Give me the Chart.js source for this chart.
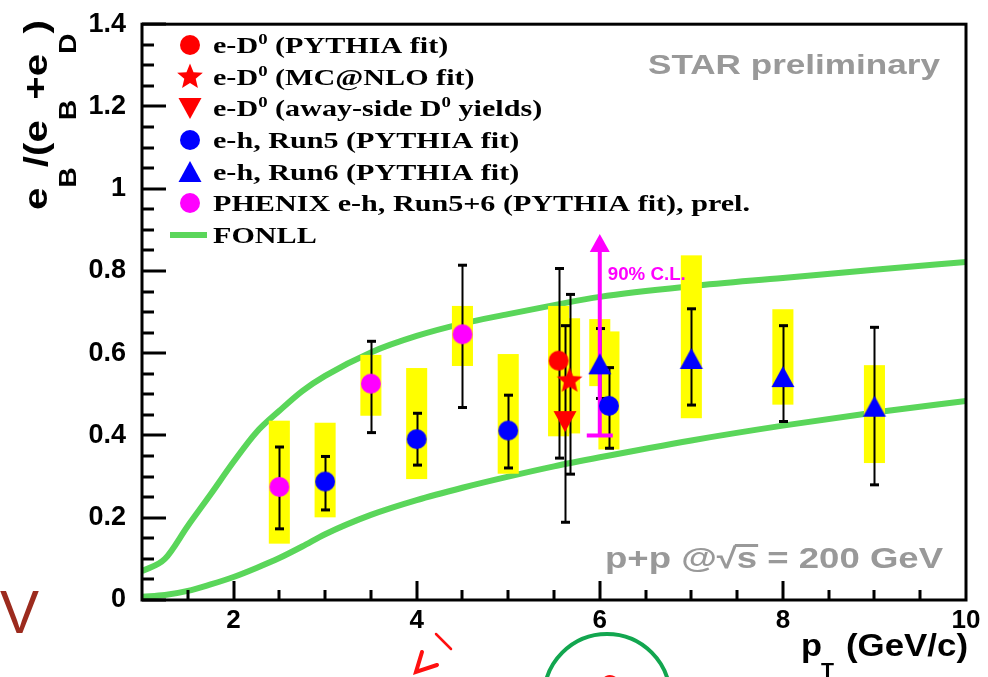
<!DOCTYPE html>
<html>
<head>
<meta charset="utf-8">
<script src="https://cdn.jsdelivr.net/npm/chart.js@4.4.0/dist/chart.umd.min.js"></script>
<style>
  html, body { margin: 0; padding: 0; background: #fff; }
  #wrap { width: 988px; height: 677px; }
</style>
</head>
<body>
<div id="wrap"><canvas id="chart" width="988" height="677"></canvas></div>
<script>
// values: x = pT (GeV/c), y = e_B/(e_B+e_D)
// error arrays hold [low, high] ends of each bar / box
const edPythiaX = [5.55];
const edPythiaY = [0.582];
const edPythiaStat = [[0.345, 0.806]];
const edPythiaSys = [[0.398, 0.715]];

const edMcnloX = [5.67];
const edMcnloY = [0.533];
const edMcnloStat = [[0.306, 0.743]];
const edMcnloSys = [[0.405, 0.685]];

const edAwayX = [5.62];
const edAwayY = [0.435];
const edAwayStat = [[0.189, 0.667]];
const edAwaySys = [null];

const run5X = [3.0, 4.0, 5.0, 6.1];
const run5Y = [0.288, 0.391, 0.412, 0.472];
const run5Stat = [[0.219, 0.349], [0.328, 0.454], [0.321, 0.498], [0.369, 0.565]];
const run5Sys = [[0.201, 0.431], [0.294, 0.564], [0.307, 0.598], [0.366, 0.653]];

const run6X = [6.0, 7.0, 8.0, 9.0];
const run6Y = [0.573, 0.586, 0.542, 0.47];
const run6Stat = [[0.49, 0.66], [0.474, 0.708], [0.434, 0.667], [0.28, 0.663]];
const run6Sys = [[0.52, 0.683], [0.442, 0.838], [0.475, 0.707], [0.333, 0.571]];

const phenixX = [2.5, 3.5, 4.5];
const phenixY = [0.275, 0.526, 0.646];
const phenixStat = [[0.173, 0.372], [0.407, 0.629], [0.468, 0.814]];
const phenixSys = [[0.137, 0.436], [0.448, 0.596], [0.569, 0.715]];

// 90% C.L. upper limit arrow
const clX = [6.0];
const clRange = [[0.40, 0.89]];

const fonllX = [1.0, 1.25, 1.5, 1.75, 2.0, 2.25, 2.5, 2.75, 3.0, 3.5, 4.0, 4.5, 5.0, 5.5, 6.0, 7.0, 8.0, 9.0, 10.0];
const fonllUpper = [0.07, 0.10, 0.18, 0.257, 0.336, 0.408, 0.46, 0.508, 0.545, 0.602, 0.642, 0.672, 0.695, 0.717, 0.737, 0.763, 0.783, 0.803, 0.822];
const fonllLower = [0.008, 0.012, 0.022, 0.038, 0.056, 0.078, 0.102, 0.13, 0.16, 0.207, 0.243, 0.273, 0.30, 0.325, 0.347, 0.388, 0.424, 0.456, 0.484];

const legendLabels = [
  [['e-D'], ['0', 'sup'], [' (PYTHIA fit)']],
  [['e-D'], ['0', 'sup'], [' (MC@NLO fit)']],
  [['e-D'], ['0', 'sup'], [' (away-side D'], ['0', 'sup'], [' yields)']],
  [['e-h, Run5 (PYTHIA fit)']],
  [['e-h, Run6 (PYTHIA fit)']],
  [['PHENIX e-h, Run5+6 (PYTHIA fit), prel.']],
  [['FONLL']]
];

const RED = '#ff0000', BLUE = '#0000ff', MAGENTA = '#ff00ff', GREEN = '#5ad65a';
const SANS = '"Liberation Sans", Arial, sans-serif';
const SERIF = '"Liberation Serif", "Times New Roman", serif';
const BOX_HALF = 0.115;

function marker(shape, color) {
  const s = 30, m = s / 2;
  const c = document.createElement('canvas');
  c.width = c.height = s;
  const g = c.getContext('2d');
  g.fillStyle = color;
  g.beginPath();
  if (shape === 'circle') {
    g.arc(m, m, 10, 0, Math.PI * 2);
  } else if (shape === 'up') {
    g.moveTo(m, m - 11); g.lineTo(m + 11.5, m + 10); g.lineTo(m - 11.5, m + 10);
  } else if (shape === 'down') {
    g.moveTo(m, m + 11); g.lineTo(m + 11.5, m - 10); g.lineTo(m - 11.5, m - 10);
  } else if (shape === 'star') {
    for (let i = 0; i < 10; i++) {
      const r = i % 2 ? 6 : 13.5;
      const a = -Math.PI / 2 + i * Math.PI / 5;
      g.lineTo(m + r * Math.cos(a), m + r * Math.sin(a));
    }
  }
  g.closePath();
  g.fill();
  return c;
}

const mRedCircle = marker('circle', RED);
const mRedStar = marker('star', RED);
const mRedDown = marker('down', RED);
const mBlueCircle = marker('circle', BLUE);
const mBlueUp = marker('up', BLUE);
const mMagCircle = marker('circle', MAGENTA);

const pts = (xs, ys) => xs.map((v, i) => ({ x: v, y: ys[i] }));

const errorSets = [
  [phenixX, phenixStat, phenixSys],
  [run5X, run5Stat, run5Sys],
  [run6X, run6Stat, run6Sys],
  [edPythiaX, edPythiaStat, edPythiaSys],
  [edMcnloX, edMcnloStat, edMcnloSys],
  [edAwayX, edAwayStat, edAwaySys]
];

// draw text with an optional squeeze/stretch to a target width
function text(ctx, s, x, y, font, color, w) {
  ctx.save();
  ctx.font = font;
  ctx.fillStyle = color;
  ctx.textBaseline = 'alphabetic';
  ctx.translate(x, y);
  if (w) ctx.scale(w / ctx.measureText(s).width, 1);
  ctx.fillText(s, 0, 0);
  ctx.restore();
}

function drawErrors(chart) {
  const { ctx, scales: { x, y } } = chart;
  ctx.save();
  ctx.fillStyle = '#ffff00';
  errorSets.forEach(([xs, , sys]) => {
    xs.forEach((v, i) => {
      if (!sys[i]) return;
      const x0 = x.getPixelForValue(v - BOX_HALF), x1 = x.getPixelForValue(v + BOX_HALF);
      const y0 = y.getPixelForValue(sys[i][1]), y1 = y.getPixelForValue(sys[i][0]);
      ctx.fillRect(x0, y0, x1 - x0, y1 - y0);
    });
  });
  ctx.strokeStyle = '#000';
  ctx.fillStyle = '#000';
  ctx.lineWidth = 2;
  errorSets.forEach(([xs, stat]) => {
    xs.forEach((v, i) => {
      const px = Math.round(x.getPixelForValue(v)) + 0.5;
      const lo = y.getPixelForValue(stat[i][0]), hi = y.getPixelForValue(stat[i][1]);
      ctx.beginPath();
      ctx.moveTo(px, lo);
      ctx.lineTo(px, hi);
      ctx.stroke();
      ctx.fillRect(px - 4.5, lo - 1.5, 9, 3);
      ctx.fillRect(px - 4.5, hi - 1.5, 9, 3);
    });
  });
  // 90% C.L. arrow
  ctx.strokeStyle = MAGENTA;
  ctx.fillStyle = MAGENTA;
  clX.forEach((v, i) => {
    const px = x.getPixelForValue(v);
    const lo = y.getPixelForValue(clRange[i][0]), hi = y.getPixelForValue(clRange[i][1]);
    ctx.lineWidth = 4;
    ctx.beginPath();
    ctx.moveTo(px, lo);
    ctx.lineTo(px, hi + 14);
    ctx.stroke();
    ctx.fillRect(px - 13, lo - 2, 26, 4);
    ctx.beginPath();
    ctx.moveTo(px, hi);
    ctx.lineTo(px + 10, hi + 18);
    ctx.lineTo(px - 10, hi + 18);
    ctx.closePath();
    ctx.fill();
    text(ctx, '90% C.L.', px + 8, y.getPixelForValue(clRange[i][1]) + 46, 'bold 19px ' + SANS, MAGENTA, 78);
  });
  ctx.restore();
}

function drawFrame(chart) {
  const { ctx, chartArea: a, scales: { x, y } } = chart;
  ctx.save();
  ctx.strokeStyle = '#000';
  ctx.lineWidth = 3;
  ctx.strokeRect(a.left, a.top, a.right - a.left, a.bottom - a.top);
  ctx.beginPath();
  for (let v = 0; v <= 1.4001; v += 0.05) {
    const py = Math.round(y.getPixelForValue(v));
    const major = Math.abs(v / 0.2 - Math.round(v / 0.2)) < 1e-6;
    ctx.moveTo(a.left, py);
    ctx.lineTo(a.left + (major ? 24 : 12), py);
  }
  for (let v = 1.5; v < 10; v += 0.5) {
    const px = Math.round(x.getPixelForValue(v));
    ctx.moveTo(px, a.bottom);
    ctx.lineTo(px, a.bottom - (v % 2 === 0 ? 19 : 10));
  }
  ctx.stroke();
  ctx.restore();
}

function drawLegend(ctx) {
  const rows = [45, 77, 108, 140, 172, 203, 235];
  const icons = [mRedCircle, mRedStar, mRedDown, mBlueCircle, mBlueUp, mMagCircle];
  const font = 'bold 24px ' + SERIF, sup = 'bold 15px ' + SERIF;
  ctx.save();
  ctx.font = font;
  const sx = 537 / ctx.measureText(legendLabels[5][0][0]).width;
  rows.forEach((cy, r) => {
    if (icons[r]) ctx.drawImage(icons[r], 190 - 15, cy - 15);
    else { ctx.fillStyle = GREEN; ctx.fillRect(170, cy - 3, 37, 6); }
    ctx.save();
    ctx.translate(213, cy + 8);
    ctx.scale(sx, 1);
    ctx.fillStyle = '#000';
    let cx = 0;
    legendLabels[r].forEach(([s, kind]) => {
      ctx.font = kind ? sup : font;
      ctx.fillText(s, cx, kind ? -9 : 0);
      cx += ctx.measureText(s).width;
    });
    ctx.restore();
  });
  ctx.restore();
}

function drawTitles(ctx) {
  // y title, rotated, read from the top end
  const parts = [['e', 0], ['B', 1], ['/(e', 0], ['B', 1], ['+e', 0], ['D', 1], [')', 0]];
  const big = 'bold 34px ' + SANS, small = 'bold 24px ' + SANS;
  ctx.save();
  let total = 0;
  parts.forEach(([s, sub]) => { ctx.font = sub ? small : big; total += ctx.measureText(s).width; });
  ctx.translate(47, 20);
  ctx.rotate(-Math.PI / 2);
  ctx.scale(190 / total, 1);
  ctx.fillStyle = '#000';
  let cx = -total;
  parts.forEach(([s, sub]) => {
    ctx.font = sub ? small : big;
    ctx.fillText(s, cx, sub ? 29 : 0);
    cx += ctx.measureText(s).width;
  });
  ctx.restore();

  // x title
  text(ctx, 'p', 801, 656, 'bold 31px ' + SANS, '#000', 21);
  text(ctx, 'T', 821, 677, 'bold 20px ' + SANS, '#000', 13);
  text(ctx, '(GeV/c)', 846, 656, 'bold 31px ' + SANS, '#000', 122);

  // gray labels
  const gray = '#999999';
  text(ctx, 'STAR preliminary', 648, 74, 'bold 28px ' + SANS, gray, 292);
  ctx.save();
  ctx.font = 'bold 29px ' + SANS;
  const full = 'p+p @\u221As = 200 GeV';
  const k = 338 / ctx.measureText(full).width;
  const pre = ctx.measureText('p+p @\u221A').width * k;
  const sw = ctx.measureText('s').width * k;
  ctx.restore();
  text(ctx, full, 605, 568, 'bold 29px ' + SANS, gray, 338);
  ctx.save();
  ctx.fillStyle = gray;
  ctx.fillRect(605 + pre - 2, 544, sw + 3, 3);
  ctx.restore();
}

function drawMarks(ctx) {
  // slide annotations around the plot
  ctx.save();
  text(ctx, 'V', 0, 633, '62px ' + SANS, '#9c2b1e', 39);
  ctx.strokeStyle = '#ff1010';
  ctx.lineCap = 'round';
  ctx.lineWidth = 2.5;
  ctx.beginPath();
  ctx.moveTo(436, 634); ctx.lineTo(451, 649);
  ctx.stroke();
  ctx.lineWidth = 4;
  ctx.beginPath();
  ctx.moveTo(422, 652); ctx.lineTo(416, 672); ctx.lineTo(437, 665);
  ctx.stroke();
  ctx.strokeStyle = '#12a64f';
  ctx.lineWidth = 4;
  ctx.beginPath();
  ctx.arc(607, 697, 63, 0, Math.PI * 2);
  ctx.stroke();
  ctx.strokeStyle = '#ff1010';
  ctx.lineWidth = 4;
  ctx.beginPath();
  ctx.arc(610, 684, 7, Math.PI * 1.1, Math.PI * 1.9);
  ctx.stroke();
  ctx.restore();
}

const overlay = {
  id: 'overlay',
  beforeDatasetDraw(chart, args) {
    if (args.index === 5) drawErrors(chart);
  },
  afterDraw(chart) {
    const ctx = chart.ctx;
    drawFrame(chart);
    drawLegend(ctx);
    drawTitles(ctx);
    drawMarks(ctx);
  }
};

const markerSet = (data, style) => ({
  data, pointStyle: style, pointRadius: 10, showLine: false
});

new Chart(document.getElementById('chart'), {
  type: 'scatter',
  data: {
    datasets: [
      markerSet(pts(edPythiaX, edPythiaY), mRedCircle),
      markerSet(pts(edMcnloX, edMcnloY), mRedStar),
      markerSet(pts(edAwayX, edAwayY), mRedDown),
      markerSet(pts(run5X, run5Y), mBlueCircle),
      markerSet(pts(run6X, run6Y), mBlueUp),
      markerSet(pts(phenixX, phenixY), mMagCircle),
      {
        data: pts(fonllX, fonllUpper), showLine: true, borderColor: GREEN, borderWidth: 6,
        pointRadius: 0, cubicInterpolationMode: 'monotone', fill: false
      },
      {
        data: pts(fonllX, fonllLower), showLine: true, borderColor: GREEN, borderWidth: 6,
        pointRadius: 0, cubicInterpolationMode: 'monotone', fill: false
      }
    ]
  },
  options: {
    responsive: false,
    animation: false,
    layout: { padding: { top: 20, right: 22, left: 0, bottom: 0 } },
    plugins: { legend: { display: false }, tooltip: { enabled: false } },
    scales: {
      x: {
        type: 'linear', min: 1, max: 10,
        grid: { display: false }, border: { display: false },
        ticks: {
          stepSize: 2, autoSkip: false, maxRotation: 0, padding: -3, color: '#000',
          font: { family: SANS, weight: 'bold', size: 26 },
          callback: v => (v % 2 === 0 ? String(v) : '')
        },
        afterFit: s => { s.height = 77; }
      },
      y: {
        min: 0, max: 1.4,
        grid: { display: false }, border: { display: false },
        ticks: {
          stepSize: 0.2, padding: 8, color: '#000',
          font: { family: SANS, weight: 'bold', size: 27 },
          callback: v => String(+v.toFixed(1))
        },
        afterFit: s => { s.width = 142; }
      }
    }
  },
  plugins: [overlay]
});
</script>
</body>
</html>
